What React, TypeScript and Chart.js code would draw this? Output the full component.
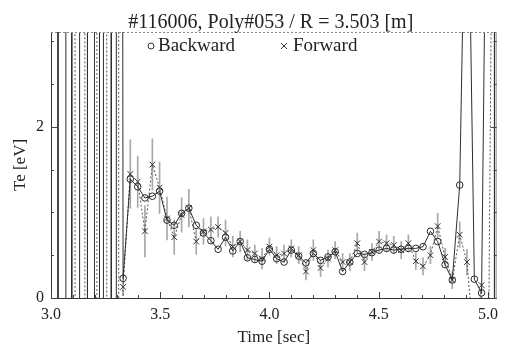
import React, { useEffect, useRef } from 'react';
import { Chart, registerables } from 'chart.js';

Chart.register(...registerables);

const FONT = '"Liberation Serif", "Times New Roman", serif';

const chartTitle = '#116006, Poly#053 / R = 3.503 [m]';
const xAxisTitle = 'Time [sec]';
const yAxisTitle = 'Te [eV]';
const seriesLabels = ['Backward', 'Forward'];

const xTickValues = [3.0, 3.5, 4.0, 4.5, 5.0];
const yTickValues = [0, 2];

const times = [
  3.330, 3.363, 3.397, 3.430, 3.464, 3.497, 3.531, 3.564, 3.598, 3.631,
  3.665, 3.698, 3.732, 3.765, 3.799, 3.832, 3.866, 3.899, 3.933, 3.966,
  4.000, 4.033, 4.067, 4.100, 4.134, 4.167, 4.201, 4.234, 4.268, 4.301,
  4.335, 4.368, 4.402, 4.435, 4.469, 4.502, 4.536, 4.569, 4.603, 4.636,
  4.670, 4.703, 4.737, 4.770, 4.804, 4.837, 4.871, 4.904, 4.938, 4.971,
];

const backward = [
  0.23, 1.39, 1.30, 1.17, 1.19, 1.25, 0.91, 0.85, 0.99, 1.05,
  0.85, 0.76, 0.67, 0.57, 0.71, 0.55, 0.66, 0.47, 0.45, 0.43,
  0.57, 0.46, 0.42, 0.56, 0.49, 0.41, 0.52, 0.44, 0.48, 0.54,
  0.31, 0.42, 0.52, 0.51, 0.53, 0.56, 0.58, 0.56, 0.57, 0.58,
  0.58, 0.60, 0.78, 0.66, 0.39, 0.21, 1.32, 6.00, 0.22, 0.06,
];

const forward = [
  0.13, 1.45, 1.36, 0.78, 1.56, 1.29, 0.93, 0.71, 0.97, 1.05,
  0.66, 0.78, 0.80, 0.83, 0.76, 0.60, 0.66, 0.56, 0.52, 0.46,
  0.60, 0.50, 0.52, 0.58, 0.50, 0.31, 0.56, 0.35, 0.46, 0.56,
  0.42, 0.42, 0.64, 0.42, 0.54, 0.66, 0.64, 0.62, 0.56, 0.64,
  0.43, 0.37, 0.50, 0.84, 0.48, 0.21, 0.74, 0.42, -0.60, 0.15,
];

const forwardErr = [
  0.10, 0.40, 0.30, 0.30, 0.30, 0.30, 0.25, 0.20, 0.20, 0.22,
  0.15, 0.15, 0.15, 0.12, 0.15, 0.12, 0.12, 0.12, 0.10, 0.12,
  0.10, 0.10, 0.10, 0.10, 0.10, 0.10, 0.12, 0.10, 0.10, 0.10,
  0.10, 0.10, 0.12, 0.10, 0.10, 0.12, 0.10, 0.10, 0.10, 0.10,
  0.10, 0.10, 0.10, 0.15, 0.10, 0.10, 0.15, 0.15, 0.00, 0.00,
];

// off-scale excursions before / after the plasma
const backwardPreTimes = [3.032, 3.032, 3.068, 3.068, 3.095, 3.095, 3.131, 3.131, 3.167, 3.167, 3.199, 3.199, 3.222, 3.222, 3.240, 3.240, 3.276, 3.276, 3.299, 3.299];
const backwardPreValues = [60, -60, -60, 60, 60, -60, -60, 60, 60, -60, -60, 60, 60, -60, -60, 60, 60, -60, -60, 60];
const backwardPostTimes = [5.005, 5.030, 5.030];
const backwardPostValues = [8, 8, -8];
const forwardPreTimes = [3.110, 3.110, 3.155, 3.155, 3.210, 3.210, 3.255, 3.255, 3.310, 3.310];
const forwardPreValues = [60, -60, -60, 60, 60, -60, -60, 60, 60, -60];
const forwardPostTimes = [4.990, 5.020];
const forwardPostValues = [-5, 5];

const toPoints = (ts: number[], vs: number[]) => ts.map((t, i) => ({ x: t, y: vs[i] }));

const decorPlugin = {
  id: 'decor',
  afterDatasetsDraw(chart: any) {
    const { ctx, chartArea: a, scales } = chart;
    const xs = scales.x;
    const ys = scales.y;
    ctx.save();
    ctx.lineWidth = 1;
    ctx.strokeStyle = '#333';
    ctx.beginPath();
    ctx.moveTo(a.left + 0.5, a.top);
    ctx.lineTo(a.left + 0.5, a.bottom + 0.5);
    ctx.lineTo(a.right, a.bottom + 0.5);
    ctx.stroke();
    ctx.strokeStyle = '#888';
    ctx.setLineDash([2, 2]);
    ctx.beginPath();
    ctx.moveTo(a.left, a.top + 0.5);
    ctx.lineTo(a.right - 0.5, a.top + 0.5);
    ctx.stroke();
    ctx.setLineDash([]);
    ctx.beginPath();
    ctx.moveTo(a.right - 0.5, a.top);
    ctx.lineTo(a.right - 0.5, a.bottom);
    ctx.stroke();
    ctx.strokeStyle = '#444';
    ctx.beginPath();
    for (let k = 0; k <= 20; k++) {
      const v = 3 + k * 0.1;
      const px = Math.round(xs.getPixelForValue(v)) + 0.5;
      const len = k % 5 === 0 ? 6 : 3;
      ctx.moveTo(px, a.bottom);
      ctx.lineTo(px, a.bottom - len);
    }
    for (let k = 0; k <= 6; k++) {
      const py = Math.round(ys.getPixelForValue(k * 0.5)) + 0.5;
      const len = k % 4 === 0 ? 6 : 3;
      ctx.moveTo(a.left, py);
      ctx.lineTo(a.left + len, py);
      ctx.moveTo(a.right, py);
      ctx.lineTo(a.right - len, py);
    }
    ctx.stroke();
    ctx.restore();
  },
  afterDraw(chart: any) {
    const { ctx, chartArea: a } = chart;
    ctx.save();
    ctx.fillStyle = '#222';
    ctx.font = `20px ${FONT}`;
    ctx.textAlign = 'center';
    ctx.textBaseline = 'alphabetic';
    ctx.fillText(chartTitle, (a.left + a.right) / 2 - 3, 28);

    const ly = a.top + 19;
    ctx.font = `19px ${FONT}`;
    ctx.textAlign = 'left';
    ctx.strokeStyle = '#333';
    ctx.lineWidth = 1;
    const cx1 = a.left + 100;
    ctx.beginPath();
    ctx.arc(cx1, ly - 5, 3, 0, Math.PI * 2);
    ctx.stroke();
    ctx.fillText(seriesLabels[0], cx1 + 7, ly);
    const cx2 = a.left + 233;
    ctx.beginPath();
    ctx.moveTo(cx2 - 3, ly - 8);
    ctx.lineTo(cx2 + 3, ly - 2);
    ctx.moveTo(cx2 + 3, ly - 8);
    ctx.lineTo(cx2 - 3, ly - 2);
    ctx.stroke();
    ctx.fillText(seriesLabels[1], cx2 + 9, ly);
    ctx.restore();
  },
};

export default function App() {
  const ref = useRef<HTMLCanvasElement>(null);
  useEffect(() => {
    const canvas = ref.current!;
    const backwardPts = [
      ...toPoints(backwardPreTimes, backwardPreValues),
      ...toPoints(times, backward),
      ...toPoints(backwardPostTimes, backwardPostValues),
    ];
    const forwardPts = [
      ...toPoints(forwardPreTimes, forwardPreValues),
      ...toPoints(times, forward),
      ...toPoints(forwardPostTimes, forwardPostValues),
    ];
    const errBars = times.map((t, i) => ({ x: t, y: [forward[i] - forwardErr[i], forward[i] + forwardErr[i]] }));
    const tickFont = { family: FONT, size: 16 };
    const chart = new Chart(canvas, {
      type: 'line',
      data: {
        datasets: [
          {
            type: 'bar',
            label: 'error',
            data: errBars as any,
            backgroundColor: '#a8a8a8',
            borderWidth: 0,
            barThickness: 1,
            order: 3,
          } as any,
          {
            type: 'line',
            label: seriesLabels[1],
            data: forwardPts,
            borderColor: '#555',
            borderWidth: 1,
            borderDash: [2, 2],
            pointStyle: 'crossRot',
            pointRadius: 4,
            pointBorderColor: '#333',
            pointBorderWidth: 1,
            order: 2,
          },
          {
            type: 'line',
            label: seriesLabels[0],
            data: backwardPts,
            borderColor: '#2e2e2e',
            borderWidth: 1,
            pointStyle: 'circle',
            pointRadius: 3.3,
            pointBackgroundColor: 'rgba(0,0,0,0)',
            pointBorderColor: '#2a2a2a',
            pointBorderWidth: 1,
            order: 1,
          },
        ],
      },
      options: {
        animation: false,
        responsive: false,
        devicePixelRatio: 1,
        layout: { padding: { top: 32, right: 3, left: 0, bottom: 0 } },
        plugins: {
          legend: { display: false },
          title: { display: false },
          tooltip: { enabled: false },
        },
        scales: {
          x: {
            type: 'linear',
            min: 3.0,
            max: 5.04,
            offset: false,
            afterFit: (s: any) => { s.height = 51; },
            afterBuildTicks: (s: any) => { s.ticks = xTickValues.map((v) => ({ value: v })); },
            grid: { display: false, drawTicks: false },
            border: { display: false },
            ticks: {
              font: tickFont,
              color: '#222',
              padding: 7,
              maxRotation: 0,
              autoSkip: false,
              callback: (v: any) => Number(v).toFixed(1),
            },
            title: {
              display: true,
              text: xAxisTitle,
              font: { family: FONT, size: 17 },
              color: '#222',
              padding: { top: 0, bottom: 1 },
            },
          },
          y: {
            type: 'linear',
            min: 0,
            max: 3.11,
            afterFit: (s: any) => { s.width = 51; },
            afterBuildTicks: (s: any) => { s.ticks = yTickValues.map((v) => ({ value: v })); },
            grid: { display: false, drawTicks: false },
            border: { display: false },
            ticks: {
              font: tickFont,
              color: '#222',
              padding: 7,
              callback: (v: any) => String(v),
            },
            title: {
              display: true,
              text: yAxisTitle,
              font: { family: FONT, size: 17 },
              color: '#222',
              padding: { top: 10, bottom: 0 },
            },
          },
        },
      } as any,
      plugins: [decorPlugin],
    });
    return () => chart.destroy();
  }, []);
  return (
    <div style={{ position: 'absolute', left: 0, top: 0, width: 505, height: 349, background: '#fff' }}>
      <canvas ref={ref} width={505} height={349} style={{ display: 'block' }} />
    </div>
  );
}
